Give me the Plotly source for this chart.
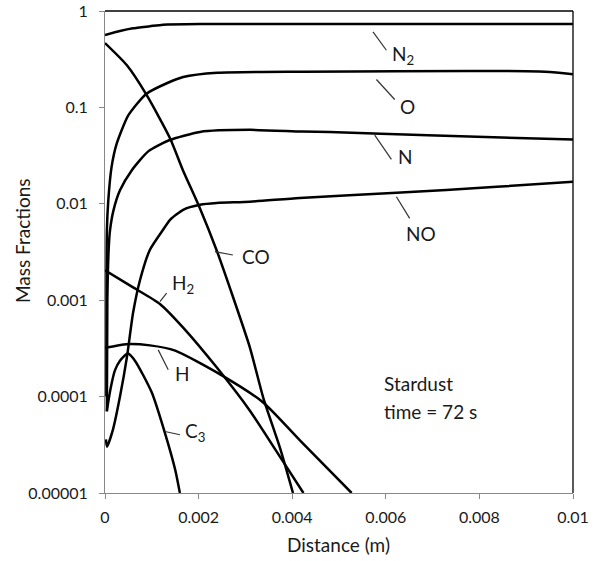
import plotly.graph_objects as go

# ---------------- data ----------------
x_N2 = [0.0, 0.00032, 0.0006, 0.00096, 0.00124, 0.00203, 0.005, 0.01]
y_N2 = [0.564, 0.62, 0.661, 0.695, 0.722, 0.733, 0.733, 0.733]

x_O = [0.00003, 0.00004, 0.00007, 0.00014, 0.00025, 0.0005, 0.00088, 0.00132,
       0.00167, 0.0024, 0.0042, 0.0094, 0.01]
y_O = [0.0001, 0.0053, 0.0108, 0.024, 0.042, 0.083, 0.138, 0.178,
       0.207, 0.229, 0.235, 0.235, 0.221]

x_N = [0.00004, 0.00005, 0.00008, 0.000107, 0.00018, 0.00032, 0.00057, 0.00093,
       0.00137, 0.00203, 0.0031, 0.0042, 0.0048, 0.0069, 0.01]
y_N = [0.00007, 0.001, 0.0035, 0.0053, 0.0085, 0.0138, 0.0222, 0.0352,
       0.0456, 0.0557, 0.0585, 0.0562, 0.0555, 0.0514, 0.0464]

x_NO = [0.00002, 0.000043, 0.00017, 0.00032, 0.00047, 0.0006, 0.00075, 0.00096,
        0.00124, 0.00139, 0.00167, 0.00203, 0.00239, 0.0031, 0.00416, 0.00623,
        0.00837, 0.01]
y_NO = [0.000036, 0.0000303, 0.0000455, 0.0001, 0.00026, 0.00074, 0.00163, 0.00334,
        0.00538, 0.00683, 0.00867, 0.00977, 0.0102, 0.0105, 0.0115, 0.0130,
        0.0150, 0.0169]

x_CO = [0.0, 0.000464, 0.000891, 0.001389, 0.001667, 0.00203, 0.002387, 0.002741,
        0.003098, 0.003382, 0.003739, 0.004017]
y_CO = [0.465, 0.275, 0.134, 0.0479, 0.0222, 0.00896, 0.00328, 0.00106,
        0.000321, 0.0000972, 0.0000294, 0.00001]

x_H2 = [0.0, 0.0006, 0.00118, 0.00167, 0.00239, 0.0031, 0.00381, 0.00424]
y_H2 = [0.00204, 0.00136, 0.00091, 0.00052, 0.0002, 0.000071, 0.000021, 0.00001]

x_H = [0.0, 0.00046, 0.00096, 0.0015, 0.00246, 0.00338, 0.00417, 0.00527]
y_H = [0.00032, 0.00035, 0.00034, 0.0003, 0.00017, 0.000087, 0.000035, 0.00001]

x_C3 = [0.00004, 0.00011, 0.00021, 0.00032, 0.00049, 0.00064, 0.001, 0.00128,
        0.0015, 0.0016]
y_C3 = [0.000071, 0.000115, 0.000186, 0.000236, 0.00028, 0.000236, 0.00011, 0.000042,
        0.0000174, 0.00001]

x_tickvals = [0, 0.002, 0.004, 0.006, 0.008, 0.01]
x_ticktext = ["0", "0.002", "0.004", "0.006", "0.008", "0.01"]
y_tickvals = [1e-5, 1e-4, 1e-3, 1e-2, 1e-1, 1]
y_ticktext = ["0.00001", "0.0001", "0.001", "0.01", "0.1", "1"]

series = [(x_N2, y_N2), (x_O, y_O), (x_N, y_N), (x_NO, y_NO),
          (x_CO, y_CO), (x_H2, y_H2), (x_H, y_H), (x_C3, y_C3)]

# ---------------- figure ----------------
FONT = "Lato, 'Open Sans', sans-serif"
TXT = "#1a1a1a"
TICK_SIZE = 16
LABEL_SIZE = 19

fig = go.Figure()
for xs, ys in series:
    fig.add_trace(go.Scatter(x=xs, y=ys, mode="lines",
                             line=dict(color="black", width=2.5,
                                       shape="spline", smoothing=0.6),
                             showlegend=False, hoverinfo="skip"))

L, R, T, B = 105, 20.5, 10.7, 561 - 493.3
PW = 594 - L - R
PH = 561 - T - B


def px(x):
    return (x - L) / PW


def py(y):
    return (561 - B - y) / PH


# leader lines (pixel positions -> paper)
leaders = [
    ((373.3, 31.7), (386.7, 50)),
    ((376.7, 79.3), (395, 99.3)),
    ((375, 135), (391.7, 159.3)),
    ((396.7, 196.7), (410, 218.3)),
    ((215, 251.7), (233, 255)),
    ((160, 301.7), (166.7, 293.3)),
    ((158.3, 350), (168.3, 370)),
    ((165, 431.7), (180, 435)),
]
shapes = []
for (a, b) in leaders:
    shapes.append(dict(type="line", xref="paper", yref="paper",
                       x0=px(a[0]), y0=py(a[1]), x1=px(b[0]), y1=py(b[1]),
                       line=dict(color="#333", width=1.2)))
# plot frame top and right
shapes.append(dict(type="line", xref="paper", yref="paper", x0=0, y0=1, x1=1, y1=1,
                   line=dict(color="black", width=1.3)))
shapes.append(dict(type="line", xref="paper", yref="paper", x0=1, y0=0, x1=1, y1=1,
                   line=dict(color="black", width=1.3)))

labels = [
    ("N<sub>2</sub>", 390.5, 55),
    ("O", 398.5, 106),
    ("N", 396.5, 156),
    ("NO", 404.5, 233.5),
    ("CO", 240, 257),
    ("H<sub>2</sub>", 170, 284),
    ("H", 173.5, 373.5),
    ("C<sub>3</sub>", 183.5, 432),
    ("Stardust", 382, 384),
    ("time = 72 s", 382, 412),
]
annotations = []
for t, x, y in labels:
    annotations.append(dict(text=t, x=px(x), y=py(y), xref="paper", yref="paper",
                            xanchor="left", yanchor="middle", showarrow=False,
                            font=dict(family=FONT, size=LABEL_SIZE, color=TXT)))
annotations.append(dict(text="Mass Fractions", textangle=-90, x=px(22), y=py(241),
                        xref="paper", yref="paper", xanchor="center", yanchor="middle",
                        showarrow=False, font=dict(family=FONT, size=LABEL_SIZE, color=TXT)))
annotations.append(dict(text="Distance (m)", x=px(339), y=py(545),
                        xref="paper", yref="paper", xanchor="center", yanchor="middle",
                        showarrow=False, font=dict(family=FONT, size=LABEL_SIZE, color=TXT)))

fig.update_layout(
    width=594, height=561,
    margin=dict(l=L, r=R, t=T, b=B, pad=0, autoexpand=False),
    paper_bgcolor="white", plot_bgcolor="white",
    font=dict(family=FONT, size=TICK_SIZE, color=TXT),
    shapes=shapes, annotations=annotations,
    xaxis=dict(range=[0, 0.01], tickvals=x_tickvals, ticktext=x_ticktext,
               ticks="outside", ticklen=5, tickcolor="#888", tickwidth=1,
               showline=True, linecolor="#888", linewidth=1, automargin=False,
               showgrid=False, zeroline=False, ticklabelstandoff=5,
               tickfont=dict(family=FONT, size=TICK_SIZE, color=TXT)),
    yaxis=dict(type="log", range=[-5, 0], tickvals=y_tickvals, ticktext=y_ticktext,
               ticks="outside", ticklen=5, tickcolor="#888", tickwidth=1,
               showline=True, linecolor="#888", linewidth=1, automargin=False,
               showgrid=False, zeroline=False, ticklabelstandoff=8,
               tickfont=dict(family=FONT, size=TICK_SIZE, color=TXT)),
)

# remove the browser's default 8px page margin so the figure fills the window
fig.write_html("out.html", config={"displayModeBar": False},
               post_script="document.body.style.margin='0';document.body.style.overflow='hidden';")
